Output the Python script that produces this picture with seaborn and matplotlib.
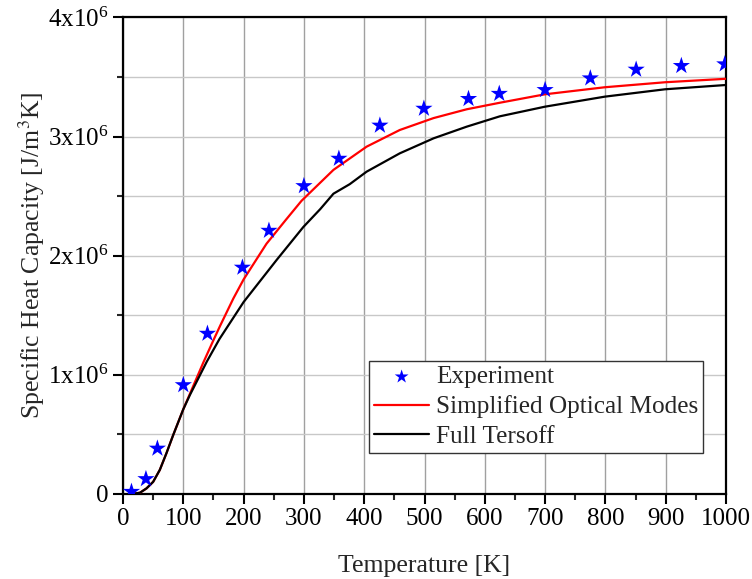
import numpy as np
import pandas as pd
import matplotlib
matplotlib.use('Agg')
import matplotlib.pyplot as plt
import seaborn as sns
from matplotlib.ticker import MultipleLocator, FuncFormatter

# data (C in units of 1e6 J/m^3K)
exp_T = [14, 38, 57, 100, 140, 198, 242, 300, 358, 426, 499, 573, 624, 700, 775, 851, 926, 998]
exp_C = [0.017, 0.124, 0.38, 0.913, 1.345, 1.90, 2.21, 2.585, 2.815, 3.093, 3.235, 3.317,
         3.36, 3.392, 3.49, 3.563, 3.594, 3.608]

som_T = [10, 20, 28, 39, 50, 61, 72, 83, 100, 111, 122, 133, 150, 161, 183, 200, 238, 270,
         296, 349, 404, 459, 515, 570, 625, 700, 799, 899, 1000]
som_C = [0.0, 0.002, 0.008, 0.045, 0.10, 0.20, 0.34, 0.49, 0.71, 0.84, 0.97, 1.10, 1.29,
         1.41, 1.64, 1.80, 2.10, 2.30, 2.46, 2.72, 2.915, 3.055, 3.155, 3.229, 3.284,
         3.355, 3.414, 3.456, 3.485]

ters_T = [10, 20, 28, 39, 50, 61, 72, 83, 100, 111, 122, 139, 160, 200, 255, 299, 327, 349,
          376, 404, 459, 515, 570, 625, 700, 799, 899, 1000]
ters_C = [0.0, 0.002, 0.008, 0.045, 0.10, 0.20, 0.34, 0.49, 0.71, 0.83, 0.94, 1.11, 1.30,
          1.61, 1.965, 2.24, 2.39, 2.52, 2.60, 2.705, 2.859, 2.985, 3.083, 3.17, 3.251,
          3.335, 3.397, 3.433]

sns.set_style('ticks')
plt.rcParams['font.family'] = ['Liberation Serif', 'DejaVu Serif']
plt.rcParams['mathtext.fontset'] = 'stix'

fig = plt.figure(figsize=(7.52, 5.79), dpi=100)
ax = fig.add_axes([0.1636, 0.1473, 0.8018, 0.8225])

exp_df = pd.DataFrame({'T': exp_T, 'C': np.array(exp_C) * 1e6})
som_df = pd.DataFrame({'T': som_T, 'C': np.array(som_C) * 1e6})
ters_df = pd.DataFrame({'T': ters_T, 'C': np.array(ters_C) * 1e6})

sns.scatterplot(data=exp_df, x='T', y='C', marker='*', s=170, color='#0000ff',
                edgecolor='none', label='Experiment', ax=ax, zorder=4)
sns.lineplot(data=som_df, x='T', y='C', color='#ff0000', lw=1.6,
             label='Simplified Optical Modes', ax=ax, zorder=3)
sns.lineplot(data=ters_df, x='T', y='C', color='black', lw=1.6,
             label='Full Tersoff', ax=ax, zorder=3)

ax.set_xlim(0, 1000)
ax.set_ylim(0, 4e6)
ax.xaxis.set_major_locator(MultipleLocator(100))
ax.xaxis.set_minor_locator(MultipleLocator(50))
ax.yaxis.set_major_locator(MultipleLocator(1e6))
ax.yaxis.set_minor_locator(MultipleLocator(0.5e6))


def yfmt(v, pos):
    n = int(round(v / 1e6))
    if n == 0:
        return '0'
    return r'$\mathregular{%dx10^{6}}$' % n


ax.yaxis.set_major_formatter(FuncFormatter(yfmt))

# grid: vertical at major x, horizontal at every 0.5e6
ax.grid(False)
ax.grid(True, axis='x', which='major', color='#a0a0a0', lw=1.0, zorder=0)
ax.grid(True, axis='y', which='both', color='#c8c8c8', lw=1.0, zorder=0)
ax.set_axisbelow(True)

for sp in ax.spines.values():
    sp.set_visible(True)
    sp.set_linewidth(1.6)
    sp.set_color('black')

ax.tick_params(which='major', direction='out', length=7, width=1.5, labelsize=18,
               colors='black', top=False, right=False)
ax.tick_params(which='minor', direction='out', length=4, width=1.5,
               top=False, right=False)

ax.set_xlabel('Temperature [K]', fontsize=18.5, labelpad=18)
ax.set_ylabel(r'Specific Heat Capacity [J/m$^3$K]', fontsize=18.5, labelpad=1)

leg = ax.legend(loc='lower right', bbox_to_anchor=(0.962, 0.085), fontsize=18.2,
                frameon=True, fancybox=False, framealpha=1, edgecolor='#333333',
                borderpad=0.2, labelspacing=0.28, handlelength=2.2, handletextpad=0.25,
                borderaxespad=0, markerscale=0.8)
leg.get_frame().set_linewidth(1.0)

fig.savefig('out.png', dpi=100)
